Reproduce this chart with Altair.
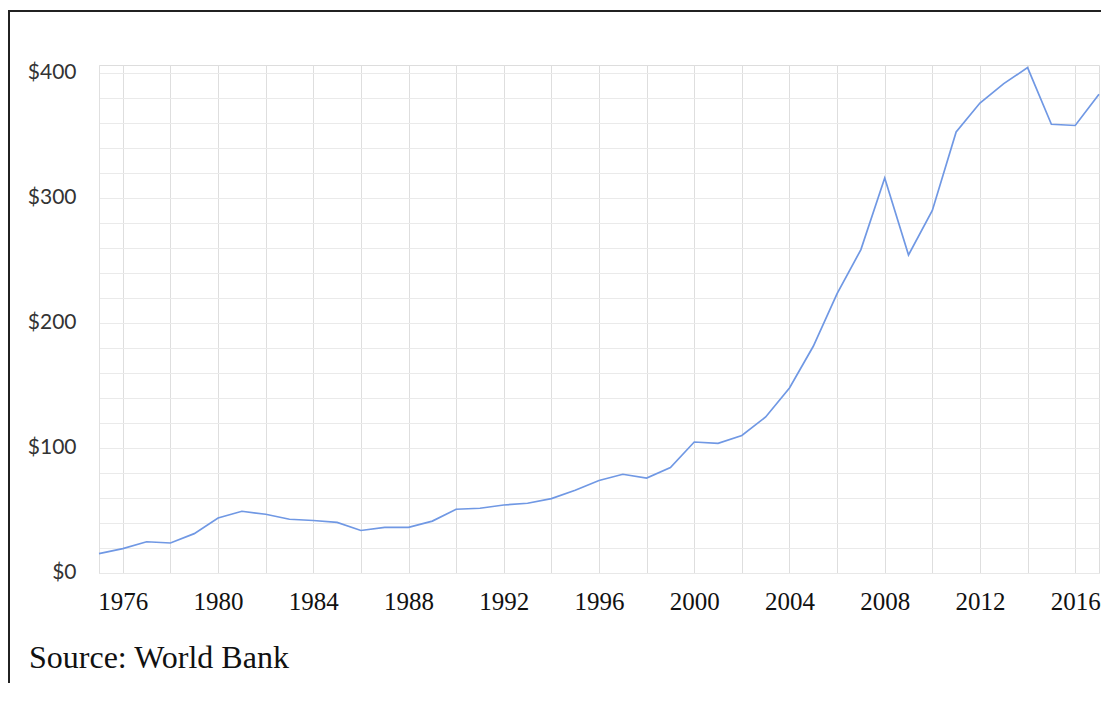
import altair as alt
import pandas as pd

years = list(range(1975, 2018))
values = [15.5, 19.5, 25, 24, 31.5, 44, 49.4, 47, 43, 42, 40.5, 34, 36.5, 36.5,
          41.5, 51, 51.8, 54.4, 55.8, 59.5, 66.2, 74, 79, 76, 84.3, 104.8, 103.7,
          110, 124.8, 148, 181.4, 223.5, 258.7, 316, 254.4, 290, 352.8, 376,
          391.5, 404.3, 359, 358, 383]
x_grid_years = list(range(1976, 2017, 2))
y_grid_values = list(range(0, 401, 20))
source_text = "Source: World Bank"

df = pd.DataFrame({"year": years, "value": values})

W, H = 1000, 508

line = alt.Chart(df).mark_line(color="#7098e4", strokeWidth=1.7).encode(
    x=alt.X("year:Q",
            scale=alt.Scale(domain=[1975, 2017], nice=False, zero=False),
            axis=alt.Axis(values=x_grid_years, title=None, ticks=False,
                          labelExpr="datum.value % 4 == 0 ? datum.label : ''",
                          format="d", labelFont="Liberation Serif", labelFontSize=25,
                          labelColor="#111111", labelBaseline="alphabetic",
                          labelPadding=36, labelFlush=False, labelOverlap=False,
                          labelBound=False, gridColor="#dedede", domainColor="#e8e8e8")),
    y=alt.Y("value:Q",
            scale=alt.Scale(domain=[0, 406.4], nice=False),
            axis=alt.Axis(values=y_grid_values, title=None, ticks=False,
                          labelExpr="datum.value % 100 == 0 ? '$' + datum.value : ''",
                          labelFont="Lato", labelFontSize=21, labelColor="#333333",
                          labelBaseline="alphabetic", labelOffset=5, labelPadding=23,
                          labelOverlap=False, labelBound=False,
                          gridColor="#eaeaea", domainColor="#e0e0e0")),
)

left_border = alt.Chart(df).mark_rule(stroke="#222222", strokeWidth=1.6, clip=False).encode(
    x=alt.value(-90.5), y=alt.value(-54.8), y2=alt.value(618)
)
top_border = alt.Chart(df).mark_rule(stroke="#222222", strokeWidth=1.6, clip=False).encode(
    x=alt.value(-91.3), x2=alt.value(1002), y=alt.value(-54)
)

src = alt.Chart(pd.DataFrame({"t": [source_text]})).mark_text(
    align="left", baseline="alphabetic", font="Liberation Serif", fontSize=32,
    color="#111111", clip=False
).encode(text="t:N", x=alt.value(-70), y=alt.value(603))

chart = alt.layer(line, left_border, top_border, src).properties(
    width=W, height=H,
    autosize=alt.AutoSizeParams(type="none"),
    padding={"left": 91, "top": 57, "right": 2, "bottom": 110},
).configure_view(strokeWidth=0).configure(background="white")

chart.save("out.html", embed_options={"renderer": "svg", "actions": False})
